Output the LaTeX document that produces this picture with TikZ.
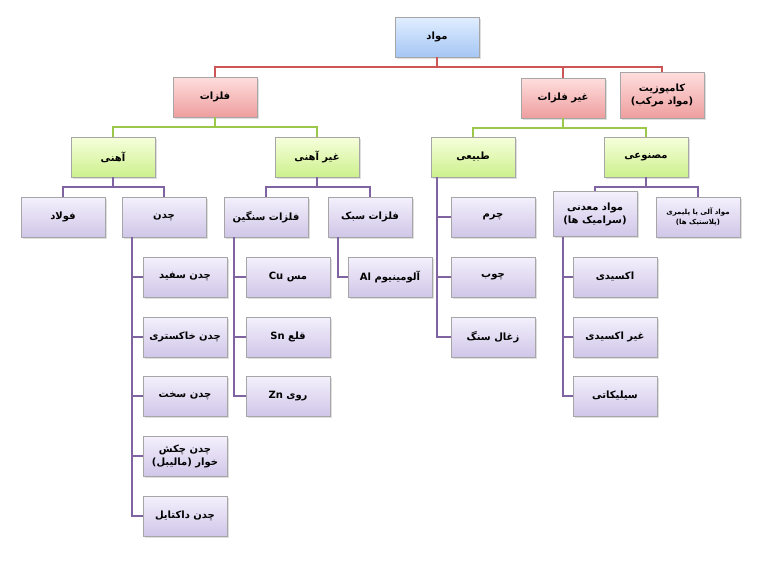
\documentclass[tikz,border=0pt]{standalone}
\usepackage{fontspec}
\TeXXeTstate=1
\newfontfamily\arabicfont[Script=Arabic]{DejaVu Sans}
\newcommand\fa[1]{\arabicfont\bfseries\beginR #1\endR}
\usetikzlibrary{positioning,shadows}

\definecolor{bluetop}{RGB}{225,238,255}
\definecolor{bluebot}{RGB}{165,198,245}
\definecolor{redtop}{RGB}{255,222,222}
\definecolor{redbot}{RGB}{238,158,158}
\definecolor{greentop}{RGB}{246,255,220}
\definecolor{greenbot}{RGB}{205,240,140}
\definecolor{purptop}{RGB}{244,240,252}
\definecolor{purpbot}{RGB}{208,198,232}
\definecolor{redln}{RGB}{205,85,85}
\definecolor{greenln}{RGB}{155,200,75}
\definecolor{purpln}{RGB}{128,100,162}

\tikzset{
  box/.style={draw=black!35, minimum width=84pt, minimum height=40pt,
    font=\fontsize{10}{13}\selectfont, align=center, inner sep=1pt,
    drop shadow={opacity=0.25, shadow xshift=1.5pt, shadow yshift=-1.5pt}},
  bluebox/.style={box, top color=bluetop, bottom color=bluebot},
  redbox/.style={box, top color=redtop, bottom color=redbot},
  greenbox/.style={box, top color=greentop, bottom color=greenbot},
  purpbox/.style={box, top color=purptop, bottom color=purpbot},
  redline/.style={draw=redln, line width=1.6pt},
  greenline/.style={draw=greenln, line width=1.6pt},
  purpline/.style={draw=purpln, line width=1.6pt}
}

\begin{document}
\begin{tikzpicture}[x=1pt,y=-1pt]
\useasboundingbox (0,0) rectangle (768,562);

% levels 1 and 2
\node[bluebox] (mat) at (437,37) {\fa{مواد}};
\node[redbox] (metal) at (215,97) {\fa{فلزات}};
\node[redbox] (nonmetal) at (563,98) {\fa{غیر فلزات}};
\node[redbox, minimum height=46pt] (comp) at (662,95)
  {\fa{کامپوزیت}\\\fa{(مواد مرکب)}};

% level 3
\node[greenbox] (iron) at (113,157) {\fa{آهنی}};
\node[greenbox] (noniron) at (317,157) {\fa{غیر آهنی}};
\node[greenbox] (natural) at (473,157) {\fa{طبیعی}};
\node[greenbox] (synth) at (646,157) {\fa{مصنوعی}};

% level 4
\node[purpbox] (steel) at (63,217) {\fa{فولاد}};
\node[purpbox] (cast) at (164,217) {\fa{چدن}};
\node[purpbox] (heavy) at (266,217) {\fa{فلزات سنگین}};
\node[purpbox] (light) at (370,217) {\fa{فلزات سبک}};
\node[purpbox] (leather) at (493,217) {\fa{چرم}};
\node[purpbox, minimum height=45pt] (mineral) at (595,214)
  {\fa{مواد معدنی}\\\fa{(سرامیک ها)}};
\node[purpbox, font=\fontsize{7}{10}\selectfont] (polymer) at (698,217)
  {\fa{مواد آلی یا پلیمری}\\\fa{(پلاستیک ها)}};

% columns
\node[purpbox] (white) at (185,277) {\fa{چدن سفید}};
\node[purpbox] (grey) at (185,337) {\fa{چدن خاکستری}};
\node[purpbox] (hard) at (185,396) {\fa{چدن سخت}};
\node[purpbox] (mall) at (185,456) {\fa{چدن چکش}\\\fa{خوار (مالیبل)}};
\node[purpbox] (duct) at (185,516) {\fa{چدن داکتایل}};
\node[purpbox] (cu) at (288,277) {\fa{مس \beginL Cu\endL}};
\node[purpbox] (sn) at (288,337) {\fa{قلع \beginL Sn\endL}};
\node[purpbox] (zn) at (288,396) {\fa{روی \beginL Zn\endL}};
\node[purpbox] (al) at (390,277) {\fa{آلومینیوم \beginL Al\endL}};
\node[purpbox] (wood) at (493,277) {\fa{چوب}};
\node[purpbox] (coal) at (493,337) {\fa{زغال سنگ}};
\node[purpbox] (oxide) at (615,277) {\fa{اکسیدی}};
\node[purpbox] (nonoxide) at (615,337) {\fa{غیر اکسیدی}};
\node[purpbox] (silic) at (615,396) {\fa{سیلیکاتی}};

% tree connectors
\foreach \c in {metal,nonmetal,comp}
  \draw[redline] (mat.south) -- ++(0,10) -| (\c.north);
\foreach \p/\c in {metal/iron,metal/noniron,nonmetal/natural,nonmetal/synth}
  \draw[greenline] (\p.south) -- ++(0,10) -| (\c.north);
\foreach \p/\c in {iron/steel,iron/cast,noniron/heavy,noniron/light,synth/mineral,synth/polymer}
  \draw[purpline] (\p.south) -- ++(0,10) -| (\c.north);

% column connectors
\foreach \p/\c in {cast/white,cast/grey,cast/hard,cast/mall,cast/duct,
    heavy/cu,heavy/sn,heavy/zn,light/al,mineral/oxide,mineral/nonoxide,mineral/silic}
  \draw[purpline] ([xshift=10pt]\p.south west) |- (\c.west);
\foreach \c in {leather,wood,coal}
  \draw[purpline] ([xshift=6pt]natural.south west) |- (\c.west);
\end{tikzpicture}
\end{document}
